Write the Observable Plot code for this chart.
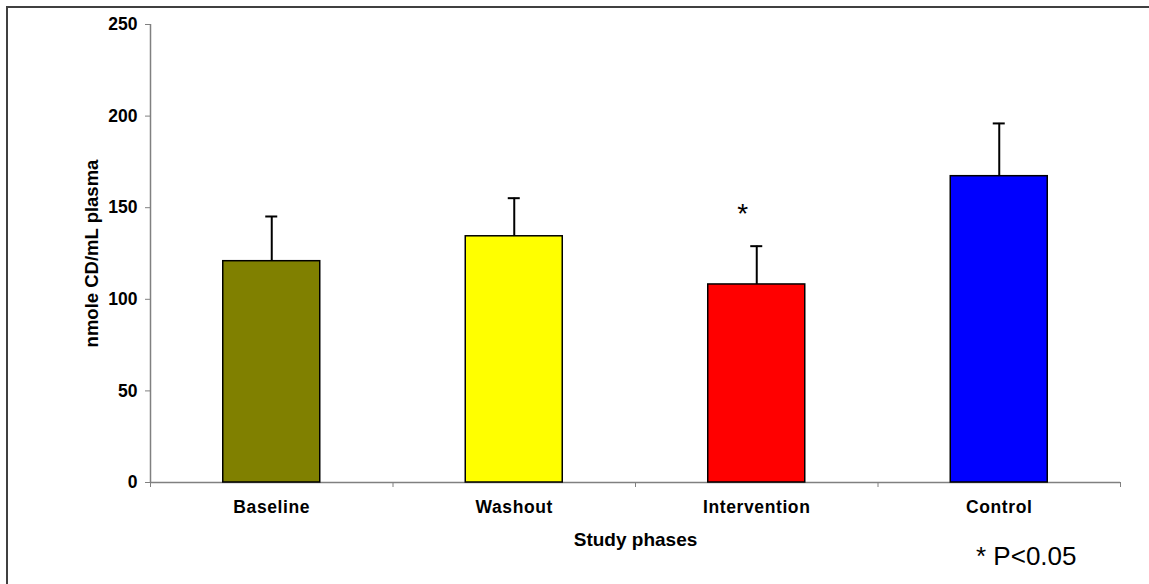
<!DOCTYPE html>
<html>
<head>
<meta charset="utf-8">
<script src="https://cdn.jsdelivr.net/npm/d3@7"></script>
<script src="https://cdn.jsdelivr.net/npm/@observablehq/plot@0.6"></script>
<style>
  html, body { margin: 0; padding: 0; background: #fff; overflow: hidden; }
  #wrap { position: relative; width: 1149px; height: 584px; }
  #border { position: absolute; left: 6px; top: 6px; width: 3000px; height: 3000px;
            border: 2px solid #404040; pointer-events: none; }
  .cat text { letter-spacing: 0.6px; }
</style>
</head>
<body>
<div id="wrap"><div id="chart"></div><div id="border"></div></div>
<script>
const phases = ["Baseline", "Washout", "Intervention", "Control"];
const means = [120.8, 134.4, 108.1, 167.2];
const upper = [145.2, 155.2, 129.0, 196.0];
const colors = ["#808000", "#FFFF00", "#FF0000", "#0000FF"];
const yTicks = [0, 50, 100, 150, 200, 250];
const starred = ["Intervention"];
const note = "* P<0.05";

const data = phases.map((p, i) => ({ phase: p, i, mean: means[i], upper: upper[i], color: colors[i] }));
const font = "'Liberation Sans', Arial, sans-serif";

const chart = Plot.plot({
  width: 1149,
  height: 584,
  marginLeft: 150,
  marginRight: 29,
  marginTop: 24,
  marginBottom: 102,
  style: { fontFamily: font, background: "white", overflow: "visible" },
  x: { type: "linear", domain: [0, phases.length] },
  y: { domain: [0, 250] },
  marks: [
    Plot.axisY({ ticks: yTicks, tickSize: 5, tickPadding: 8, stroke: "#808080", fill: "black",
      fontSize: 17.5, fontWeight: "bold", label: null }),
    Plot.axisY({ ticks: [], label: "nmole CD/mL plasma", labelAnchor: "center", labelOffset: 66,
      labelArrow: "none", fontSize: 18.5, fontWeight: "bold", fill: "black" }),
    Plot.axisX({ ticks: d3.range(phases.length + 1), tickSize: 5, tickFormat: () => "",
      stroke: "#808080", label: null }),
    Plot.axisX({ ticks: [], label: "Study phases", labelAnchor: "center", labelOffset: 63,
      labelArrow: "none", fontSize: 19, fontWeight: "bold", fill: "black" }),
    Plot.ruleX([0], { stroke: "#808080", strokeWidth: 1.5 }),
    Plot.ruleY([0], { stroke: "#808080", strokeWidth: 1.5 }),
    Plot.ruleX(data, { x: d => d.i + 0.5, y1: "mean", y2: "upper", stroke: "black", strokeWidth: 2 }),
    Plot.ruleY(data, { y: "upper", x1: d => d.i + 0.5, x2: d => d.i + 0.5, insetLeft: -6, insetRight: -6,
      stroke: "black", strokeWidth: 2 }),
    Plot.rectY(data, { x1: d => d.i + 0.3, x2: d => d.i + 0.7, y1: 0, y2: "mean",
      fill: "color", stroke: "black", strokeWidth: 1.5 }),
    Plot.text(data, { x: d => d.i + 0.5, y: 0, text: "phase", dy: 25, lineAnchor: "middle",
      fontSize: 17.5, fontWeight: "bold", fill: "black", className: "cat" }),
    Plot.text(data.filter(d => starred.includes(d.phase)), { x: d => d.i + 0.5, y: "upper", text: () => "*",
      dx: -14, dy: -32, lineAnchor: "middle", fontSize: 28, fill: "black" }),
    Plot.text([note], { x: phases.length - 0.5, y: 0, text: d => d, dx: 27, dy: 74,
      lineAnchor: "middle", fontSize: 26, fill: "black" })
  ]
});
document.getElementById("chart").appendChild(chart);
</script>
</body>
</html>
